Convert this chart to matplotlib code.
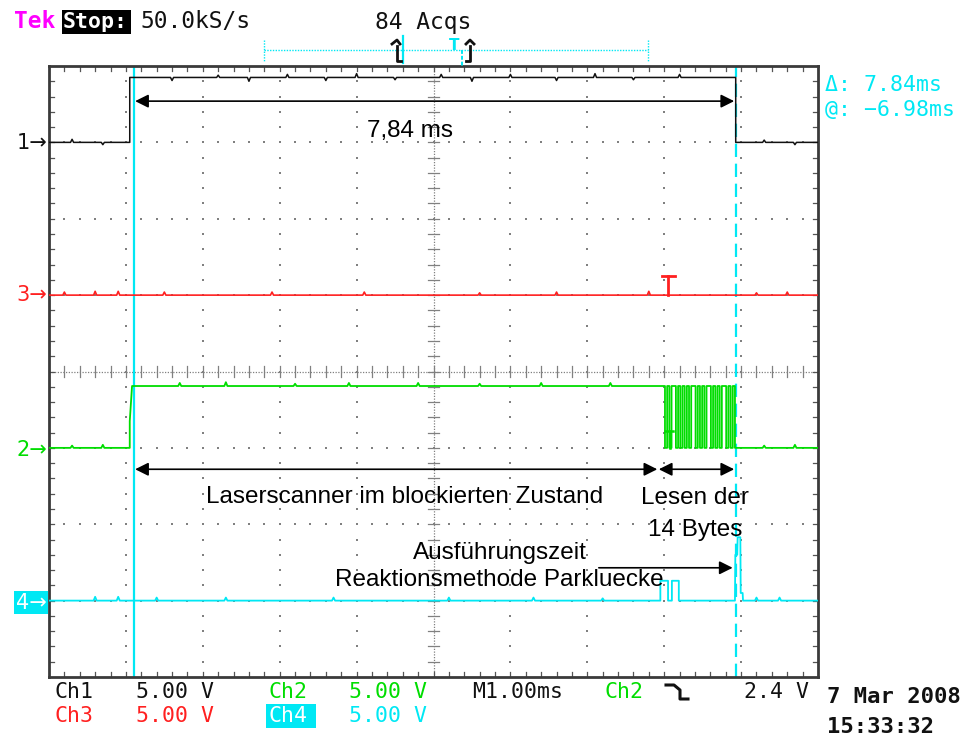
import matplotlib
matplotlib.use("Agg")
import matplotlib.pyplot as plt
from matplotlib.patches import Rectangle

W, H = 971, 740

# ---- scope screen geometry (pixels) ----
GX0, GX1, GY0, GY1 = 49, 818, 66, 677     # graticule box
NX, NY = 10, 8                              # divisions

# ---- timing (divisions, 1 ms/div) ----
t_rise = 1.05
t_fall = 8.93
cursor_a = 1.10
cursor_b = 8.94

# ---- channel levels (divisions from bottom) ----
ch1_low, ch1_high = 7.0, 7.85
ch3_level = 5.0
ch2_low, ch2_high = 3.0, 3.81
ch4_level = 1.0

# small glitches seen on the flat parts of each trace (time, offset)
ch1_glitches = [(0.3, 0.04), (0.7, -0.03), (1.6, -0.04), (2.2, 0.03), (2.6, -0.05), (3.1, 0.04),
                (3.6, -0.04), (4.0, 0.05), (4.5, -0.03), (5.1, 0.04), (5.5, -0.05), (6.0, 0.04),
                (6.6, -0.04), (7.1, 0.05), (7.6, -0.03), (8.2, 0.04), (9.3, 0.03), (9.7, -0.03)]
ch3_glitches = [(0.2, 0.04), (0.6, 0.05), (0.9, 0.05), (1.5, 0.04), (2.9, 0.04), (4.1, 0.04),
                (5.6, 0.03), (6.6, 0.04), (7.8, 0.05), (9.2, 0.03), (9.6, 0.04)]
ch2_glitches = [(0.3, 0.03), (0.7, 0.04), (1.7, 0.04), (2.3, 0.05), (3.2, 0.03), (3.9, 0.04),
                (4.8, 0.04), (5.6, 0.03), (6.4, 0.04), (7.3, 0.04), (9.3, 0.03), (9.7, 0.04)]
ch4_glitches = [(0.6, 0.05), (0.9, 0.05), (1.4, 0.04), (2.3, 0.04), (3.7, 0.04), (5.2, 0.04),
                (6.3, 0.04), (7.2, 0.03), (9.2, 0.04), (9.5, 0.04)]

# serial data burst on Ch2 (one character per bit cell)
ch2_burst_start, ch2_burst_end = 8.01, 8.92
ch2_burst_bits = "01011010101011010101101010110101"

# Ch4 pulses: (start, end, level)
ch4_pulses = [(7.95, 8.05, 1.26), (8.10, 8.19, 1.26)]
ch4_spike_t = [8.92, 8.925, 8.95, 8.955, 8.99, 8.995, 9.02, 9.025]
ch4_spike_y = [1.0, 1.60, 1.60, 1.83, 1.83, 1.10, 1.10, 1.0]

# annotation text
span_label = "7,84 ms"
block_label = "Laserscanner im blockierten Zustand"
read_label_1 = "Lesen der"
read_label_2 = "14 Bytes"
exec_label_1 = "Ausführungszeit"
exec_label_2 = "Reaktionsmethode Parkluecke"

BLACK = "#111111"
RED = "#ff2020"
GREEN = "#00dd00"
CYAN = "#00e8f4"
GRID = "#808080"

ANN_FONT = ["Liberation Sans", "DejaVu Sans"]
MONO = ["DejaVu Sans Mono", "DejaVu Sans"]
SANS = ["DejaVu Sans"]
ANN_SIZE = 17.5


def flat_with_glitches(t0, t1, level, glitches):
    xs, ys = [t0], [level]
    for t, d in glitches:
        if t0 + 0.03 < t < t1 - 0.03:
            xs += [t - 0.02, t, t + 0.02]
            ys += [level, level + d, level]
    xs.append(t1)
    ys.append(level)
    return xs, ys


fig = plt.figure(figsize=(W / 100, H / 100), dpi=100)
fig.patch.set_facecolor("white")

ax = fig.add_axes([GX0 / W, 1 - GY1 / H, (GX1 - GX0) / W, (GY1 - GY0) / H])
ax.set_xlim(0, NX)
ax.set_ylim(0, NY)
ax.set_xticks([])
ax.set_yticks([])
for s in ax.spines.values():
    s.set_color("#3a3a3a")
    s.set_linewidth(2)

# ---- graticule ----
minor = [k * 0.2 for k in range(1, 50)]
for i in range(1, NX):
    if i == 5:
        continue
    ys = [y for y in minor if y < NY]
    ax.scatter([i] * len(ys), ys, s=1.8, marker="s", color=GRID, lw=0, zorder=1)
for j in range(1, NY):
    if j == 4:
        continue
    xs = [x for x in minor if x < NX]
    ax.scatter(xs, [j] * len(xs), s=1.8, marker="s", color=GRID, lw=0, zorder=1)

# centre cross with tick marks
ax.plot([5, 5], [0, NY], color=GRID, lw=0.9, ls=(0, (1, 1.2)), zorder=1)
ax.plot([0, NX], [4, 4], color=GRID, lw=0.9, ls=(0, (1, 1.2)), zorder=1)
for y in [k * 0.2 for k in range(1, 40)]:
    ax.plot([4.93, 5.07], [y, y], color=GRID, lw=0.9, zorder=1)
for x in [k * 0.2 for k in range(1, 50)]:
    ax.plot([x, x], [3.93, 4.07], color=GRID, lw=0.9, zorder=1)

# border ticks
for x in [k * 0.2 for k in range(1, 50)]:
    ax.plot([x, x], [NY, NY - 0.07], color="#555555", lw=0.9, zorder=1)
    ax.plot([x, x], [0, 0.07], color="#555555", lw=0.9, zorder=1)
for y in [k * 0.2 for k in range(1, 40)]:
    ax.plot([0, 0.07], [y, y], color="#555555", lw=0.9, zorder=1)
    ax.plot([NX, NX - 0.07], [y, y], color="#555555", lw=0.9, zorder=1)

# ---- cursors ----
ax.axvline(cursor_a, color=CYAN, lw=1.6, zorder=2)
ax.axvline(cursor_b, color=CYAN, lw=1.6, ls=(0, (6, 3)), zorder=2)

# ---- Ch1 ----
x1a, y1a = flat_with_glitches(0, t_rise, ch1_low, ch1_glitches)
x1b, y1b = flat_with_glitches(t_rise, t_fall, ch1_high, ch1_glitches)
x1c, y1c = flat_with_glitches(t_fall, NX, ch1_low, ch1_glitches)
ax.plot(x1a + x1b + x1c, y1a + y1b + y1c, color=BLACK, lw=1.1, zorder=4)

# ---- Ch3 ----
x3, y3 = flat_with_glitches(0, NX, ch3_level, ch3_glitches)
ax.plot(x3, y3, color=RED, lw=1.2, zorder=4)
ax.plot([7.97, 8.14], [5.25, 5.25], color=RED, lw=2.0, zorder=4)
ax.plot([8.05, 8.05], [5.25, 5.0], color=RED, lw=2.0, zorder=4)

# ---- Ch2 ----
x2a, y2a = flat_with_glitches(0, t_rise, ch2_low, ch2_glitches)
x2b, y2b = flat_with_glitches(t_rise + 0.03, ch2_burst_start, ch2_high, ch2_glitches)
x2 = x2a + [t_rise, t_rise + 0.03] + x2b
y2 = y2a + [ch2_low + 0.35, ch2_high] + y2b
cell = (ch2_burst_end - ch2_burst_start) / len(ch2_burst_bits)
for k, b in enumerate(ch2_burst_bits):
    lvl = ch2_high if b == "1" else ch2_low
    x2 += [ch2_burst_start + k * cell, ch2_burst_start + (k + 1) * cell]
    y2 += [lvl, lvl]
x2c, y2c = flat_with_glitches(ch2_burst_end, NX, ch2_low, ch2_glitches)
x2 += x2c
y2 += y2c
ax.plot(x2, y2, color=GREEN, lw=1.3, zorder=4)
ax.plot([8.01, 8.12], [3.22, 3.22], color=GREEN, lw=1.8, zorder=4)
ax.plot([8.07, 8.07], [3.22, 3.0], color=GREEN, lw=1.8, zorder=4)

# ---- Ch4 ----
x4a, y4a = flat_with_glitches(0, ch4_pulses[0][0], ch4_level, ch4_glitches)
x4, y4 = list(x4a), list(y4a)
for (a, b, lvl) in ch4_pulses:
    x4 += [a, a, b, b]
    y4 += [ch4_level, lvl, lvl, ch4_level]
x4 += [ch4_spike_t[0]] + ch4_spike_t
y4 += [ch4_level] + ch4_spike_y
x4d, y4d = flat_with_glitches(ch4_spike_t[-1], NX, ch4_level, ch4_glitches)
x4 += x4d
y4 += y4d
ax.plot(x4, y4, color=CYAN, lw=1.3, zorder=4)

# ---- annotations ----
arrow_kw = dict(arrowstyle="<|-|>", color="black", lw=1.2, mutation_scale=20, shrinkA=0, shrinkB=0)
ax.annotate("", xy=(1.12, 7.54), xytext=(8.91, 7.54), arrowprops=arrow_kw, zorder=6)
ax.text(4.69, 7.15, span_label, ha="center", va="center", fontsize=ANN_SIZE, family=ANN_FONT, zorder=6)

ax.annotate("", xy=(1.12, 2.72), xytext=(7.91, 2.72), arrowprops=arrow_kw, zorder=6)
ax.annotate("", xy=(7.93, 2.72), xytext=(8.91, 2.72), arrowprops=arrow_kw, zorder=6)
ax.text(4.63, 2.36, block_label, ha="center", va="center", fontsize=ANN_SIZE, family=ANN_FONT, zorder=6)
ax.text(8.40, 2.34, read_label_1, ha="center", va="center", fontsize=ANN_SIZE, family=ANN_FONT, zorder=6)
ax.text(8.40, 1.92, read_label_2, ha="center", va="center", fontsize=ANN_SIZE, family=ANN_FONT, zorder=6)

ax.annotate("", xy=(8.89, 1.43), xytext=(7.15, 1.43),
            arrowprops=dict(arrowstyle="-|>", color="black", lw=1.2, mutation_scale=20,
                            shrinkA=0, shrinkB=0), zorder=6)
ax.text(5.86, 1.62, exec_label_1, ha="center", va="center", fontsize=ANN_SIZE, family=ANN_FONT, zorder=6)
ax.text(5.86, 1.27, exec_label_2, ha="center", va="center", fontsize=ANN_SIZE, family=ANN_FONT, zorder=6)

# ---- screen text around the graticule (pixel coordinates) ----
ov = fig.add_axes([0, 0, 1, 1], zorder=5)
ov.set_xlim(0, W)
ov.set_ylim(H, 0)
ov.axis("off")
ov.patch.set_alpha(0)

TOP = 16.5
ov.text(14, 22, "Tek", color="#ff00ff", fontsize=TOP, weight="bold", va="center", family=MONO)
ov.add_patch(Rectangle((62, 10), 69, 24, color="black", lw=0))
ov.text(63, 22, "Stop:", color="white", fontsize=TOP - 1, weight="bold", va="center", family=MONO)
ov.text(140, 22, "50.0kS/s", color=BLACK, fontsize=TOP, va="center", family=MONO)
ov.text(375, 22, "84 Acqs", color=BLACK, fontsize=TOP, va="center", family=MONO)

# record-position bar
ov.plot([264, 648], [50, 50], color=CYAN, lw=1.0, ls=(0, (1, 1)))
ov.plot([264, 264], [40, 62], color=CYAN, lw=1.0, ls=(0, (1, 1)))
ov.plot([648, 648], [40, 62], color=CYAN, lw=1.0, ls=(0, (1, 1)))
ov.plot([403, 403], [36, 63], color=CYAN, lw=1.6)
ov.plot([462, 462], [50, 66], color=CYAN, lw=1.4, ls=(0, (2, 1)))
ov.text(454, 45, "T", color=CYAN, fontsize=11, ha="center", va="center", weight="bold")
ov.plot([397, 397, 401], [46, 61, 61], color=BLACK, lw=2)
ov.plot([392, 397, 400], [44, 40, 44], color=BLACK, lw=2)
ov.plot([470, 470, 466], [46, 61, 61], color=BLACK, lw=2)
ov.plot([466, 470, 474], [44, 40, 44], color=BLACK, lw=2)

# channel ground markers
MK = 15
ov.text(47, 143, "1\u2192", color=BLACK, fontsize=MK, ha="right", va="center", family=SANS)
ov.text(47, 295, "3\u2192", color=RED, fontsize=MK, ha="right", va="center", family=SANS)
ov.text(47, 450, "2\u2192", color=GREEN, fontsize=MK, ha="right", va="center", family=SANS)
ov.add_patch(Rectangle((14, 591), 34, 23, color=CYAN, lw=0))
ov.text(47, 603, "4\u2192", color="white", fontsize=MK, ha="right", va="center", family=SANS)

# cursor readouts
ov.text(825, 85, "\u0394: 7.84ms", color=CYAN, fontsize=15.5, va="center", family=MONO)
ov.text(825, 110, "@: \u22126.98ms", color=CYAN, fontsize=15.5, va="center", family=MONO)

# status lines
row1, row2 = 692, 716
BFS = 15.5
for x, s, c in [(54, "Ch1", BLACK), (136, "5.00 V", BLACK),
                (268, "Ch2", GREEN), (349, "5.00 V", GREEN),
                (472, "M1.00ms", BLACK), (605, "Ch2", GREEN),
                (744, "2.4 V", BLACK)]:
    ov.text(x, row1, s, color=c, fontsize=BFS, va="center", family=MONO)
ov.plot([666, 674, 680, 680, 688], [685, 685, 690, 699, 699], color=BLACK, lw=2.2)
for x, s, c in [(54, "Ch3", RED), (136, "5.00 V", RED), (349, "5.00 V", CYAN)]:
    ov.text(x, row2, s, color=c, fontsize=BFS, va="center", family=MONO)
ov.add_patch(Rectangle((266, 704), 50, 24, color=CYAN, lw=0))
ov.text(268, row2, "Ch4", color="white", fontsize=BFS, va="center", family=MONO)

ov.text(827, 697, "7 Mar 2008", color=BLACK, fontsize=16, va="center", family=MONO, weight="bold")
ov.text(827, 727, "15:33:32", color=BLACK, fontsize=16, va="center", family=MONO, weight="bold")

fig.savefig("out.png", dpi=100)
